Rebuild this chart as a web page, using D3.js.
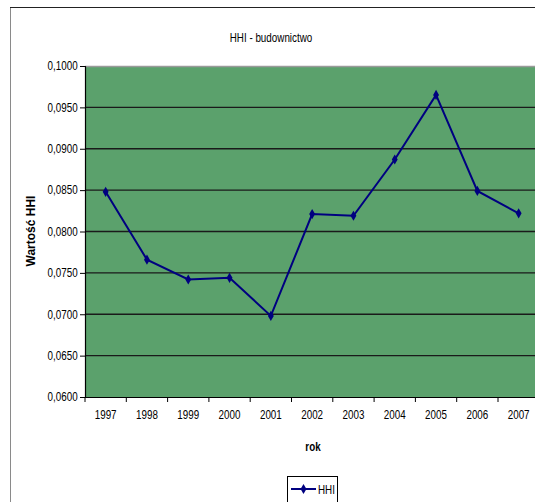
<!DOCTYPE html>
<html>
<head>
<meta charset="utf-8">
<script src="https://cdn.jsdelivr.net/npm/d3@7"></script>
<style>
  body { margin: 0; background: #fff; }
  svg { display: block; font-family: "Liberation Sans", Arial, sans-serif; }
</style>
</head>
<body>
<svg id="chart" width="535" height="502"></svg>
<script>
var years = ['1997', '1998', '1999', '2000', '2001', '2002', '2003', '2004', '2005', '2006', '2007']
var hhi = [0.0848, 0.0766, 0.0742, 0.0744, 0.0698, 0.0821, 0.0819, 0.0887, 0.0965, 0.0849, 0.0822]
var yTicks = [0.06, 0.065, 0.07, 0.075, 0.08, 0.085, 0.09, 0.095, 0.1]

var svg = d3.select('#chart')
var pLeft = 85, pTop = 66, pBottom = 397
var pRight = pLeft + 11 * 41.3
var squeeze = 'scale(0.82,1)'

// outer chart frame
svg.append('rect')
    .attr('x', 10.5).attr('y', 7.5)
    .attr('width', 540).attr('height', 520)
    .attr('fill', '#fff')
    .attr('stroke', '#8a8a8a')
svg.append('line')
    .attr('x1', 10).attr('x2', 535).attr('y1', 7.5).attr('y2', 7.5)
    .attr('stroke', '#222')

var x = d3.scaleBand().domain(years).range([pLeft, pRight])
var y = d3.scaleLinear().domain([0.06, 0.1]).range([pBottom, pTop])

svg.append('rect')
    .attr('x', pLeft).attr('y', pTop)
    .attr('width', pRight - pLeft).attr('height', pBottom - pTop)
    .attr('fill', '#5ba16c')
svg.append('line')
    .attr('x1', pLeft).attr('x2', pRight).attr('y1', pTop + 0.5).attr('y2', pTop + 0.5)
    .attr('stroke', '#9a9a9a').attr('stroke-width', 1.5)

// gridlines
svg.append('g').selectAll('line')
    .data(yTicks.filter(v => v > 0.06 && v < 0.1))
    .enter().append('line')
    .attr('x1', pLeft).attr('x2', pRight)
    .attr('y1', d => y(d)).attr('y2', d => y(d))
    .attr('stroke', '#1a1a1a').attr('stroke-width', 1.4)

var fmt = d => d3.format('.4f')(d).replace('.', ',')

var yAxis = svg.append('g')
    .attr('transform', 'translate(' + pLeft + ',0)')
    .call(d3.axisLeft(y).tickValues(yTicks).tickFormat(fmt).tickSize(5).tickPadding(4))
yAxis.select('.domain').attr('stroke', '#000').attr('stroke-width', 1.2)
yAxis.selectAll('text').attr('font-size', 12).attr('fill', '#000')
    .attr('font-family', '"Liberation Sans", Arial, sans-serif')
    .attr('transform', squeeze)

var xAxis = svg.append('g')
    .attr('transform', 'translate(0,' + pBottom + ')')
    .call(d3.axisBottom(x).tickSize(0).tickPadding(13))
xAxis.select('.domain').attr('stroke', '#000').attr('stroke-width', 1.2)
xAxis.selectAll('text').attr('font-size', 12).attr('fill', '#000')
    .attr('font-family', '"Liberation Sans", Arial, sans-serif')
    .attr('transform', squeeze)
// category boundary ticks
svg.append('g').selectAll('line')
    .data(years)
    .enter().append('line')
    .attr('x1', d => x(d)).attr('x2', d => x(d))
    .attr('y1', pBottom).attr('y2', pBottom + 5)
    .attr('stroke', '#000')

// series
var line = d3.line()
    .x((d, i) => x(years[i]) + x.bandwidth() / 2)
    .y(d => y(d))
svg.append('path')
    .datum(hhi)
    .attr('d', line)
    .attr('fill', 'none')
    .attr('stroke', '#000080')
    .attr('stroke-width', 2)
svg.append('g').selectAll('path')
    .data(hhi)
    .enter().append('path')
    .attr('transform', (d, i) => 'translate(' + (x(years[i]) + x.bandwidth() / 2) + ',' + y(d) + ')')
    .attr('d', d3.symbol().type(d3.symbolDiamond).size(30))
    .attr('fill', '#000080')

// titles
svg.append('text')
    .attr('transform', 'translate(271,42) ' + squeeze)
    .attr('text-anchor', 'middle')
    .attr('font-size', 12)
    .text('HHI - budownictwo')
svg.append('text')
    .attr('transform', 'translate(313,451) ' + squeeze)
    .attr('text-anchor', 'middle')
    .attr('font-size', 12).attr('font-weight', 'bold')
    .text('rok')
svg.append('text')
    .attr('transform', 'translate(35,231) rotate(-90)')
    .attr('text-anchor', 'middle')
    .attr('font-size', 12).attr('font-weight', 'bold')
    .text('Wartość HHI')

// legend
var lg = svg.append('g').attr('transform', 'translate(287,476)')
lg.append('rect')
    .attr('x', 0.5).attr('y', 0.5).attr('width', 50).attr('height', 40)
    .attr('fill', '#fff').attr('stroke', '#000')
lg.append('line')
    .attr('x1', 4).attr('x2', 29).attr('y1', 13).attr('y2', 13)
    .attr('stroke', '#000080').attr('stroke-width', 2)
lg.append('path')
    .attr('transform', 'translate(16.5,13)')
    .attr('d', d3.symbol().type(d3.symbolDiamond).size(30))
    .attr('fill', '#000080')
lg.append('text')
    .attr('transform', 'translate(31,17.5) ' + squeeze)
    .attr('font-size', 12)
    .text('HHI')
</script>
</body>
</html>
